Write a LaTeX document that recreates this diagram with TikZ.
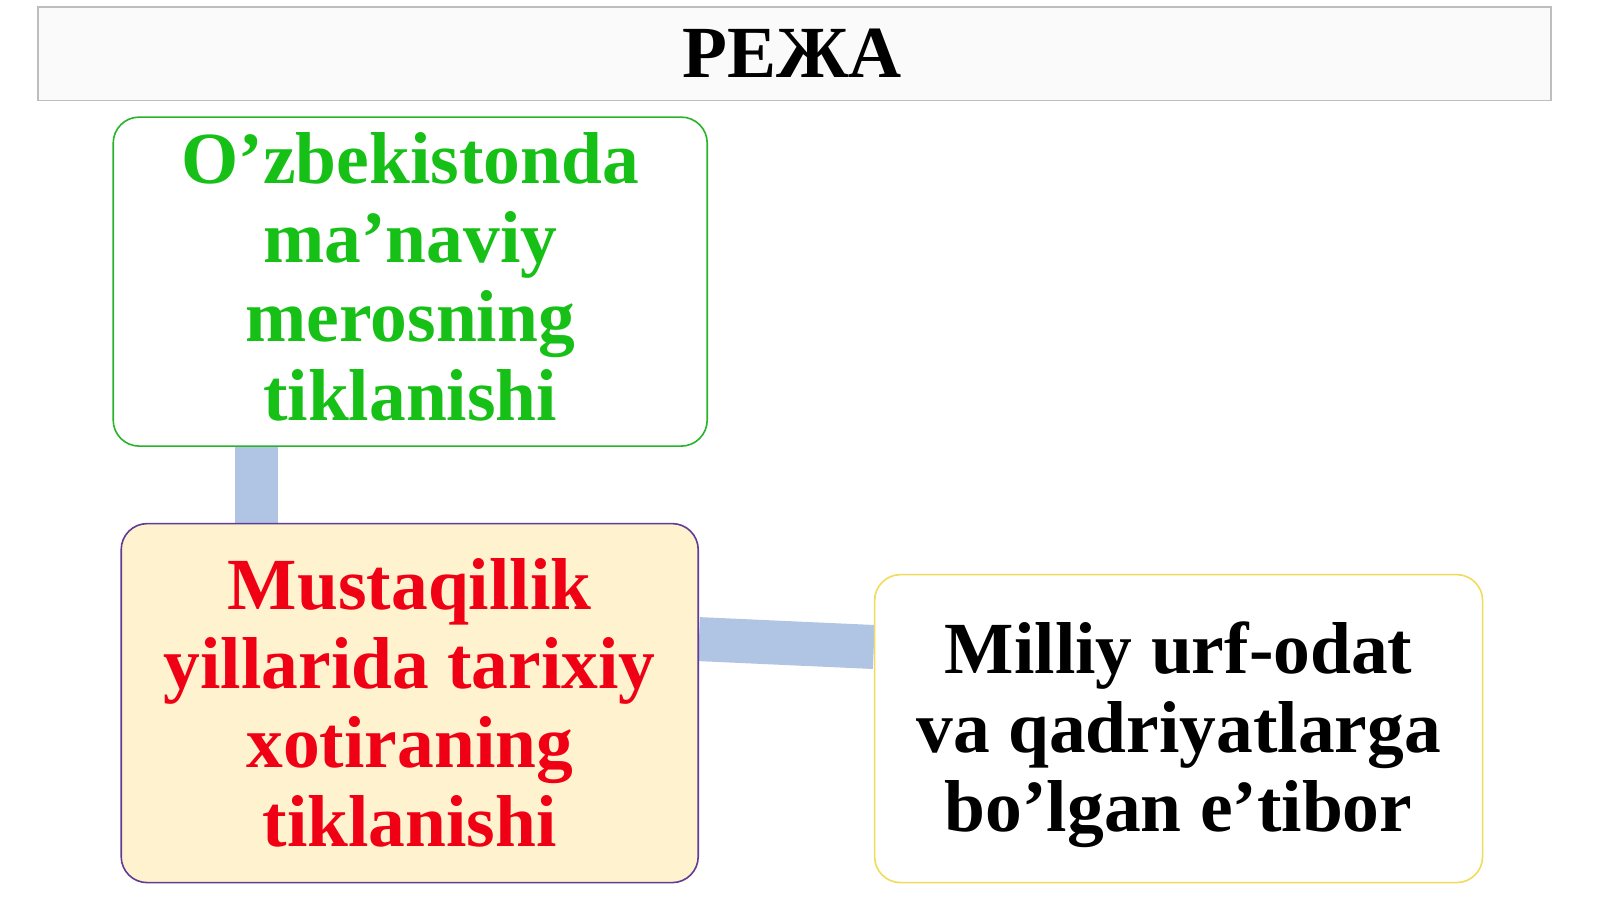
\documentclass[tikz,border=0pt]{standalone}
\usepackage{fontspec}
\setmainfont{Liberation Serif}
\usetikzlibrary{backgrounds,calc}
\definecolor{greentxt}{RGB}{22,192,22}
\definecolor{greenline}{RGB}{40,180,40}
\definecolor{redtxt}{RGB}{240,0,20}
\definecolor{purpleline}{RGB}{96,60,150}
\definecolor{creamfill}{RGB}{255,242,206}
\definecolor{goldline}{RGB}{240,220,90}
\definecolor{connblue}{RGB}{176,196,228}
\definecolor{titlefill}{RGB}{250,250,250}
\definecolor{titleline}{RGB}{190,190,190}
\tikzset{
  bigtext/.style={font=\fontsize{73.5}{79}\selectfont\bfseries, align=center, inner sep=0pt},
  roundbox/.style={rectangle, rounded corners=26pt, line width=1.6pt},
  conn/.style={draw=connblue, line cap=butt}
}
\begin{document}
\begin{tikzpicture}[x=1pt,y=-1pt]
\useasboundingbox (0,0) rectangle (1600,899);
% title
\node[rectangle, draw=titleline, fill=titlefill, line width=1.2pt, minimum width=1513pt, minimum height=93pt, inner sep=0pt] (title) at (794.4,53.6) {};
\node[bigtext, anchor=base] (titletext) at (792,77.6) {РЕЖА};
% boxes
\node[roundbox, draw=greenline, fill=white, minimum width=594pt, minimum height=329pt] (g) at (410.2,281.6) {};
\node[bigtext, text=greentxt] (gt) at ([yshift=5pt]g.center)
  {O’zbekistonda\\ma’naviy\\merosning\\tiklanishi};
\node[roundbox, draw=purpleline, fill=creamfill, minimum width=577pt, minimum height=359pt] (r) at (409.7,703.1) {};
\node[bigtext, text=redtxt] (rt) at (r.center)
  {Mustaqillik\\yillarida tarixiy\\xotiraning\\tiklanishi};
\node[roundbox, draw=goldline, fill=white, minimum width=608pt, minimum height=308pt] (b) at (1178.6,728.6) {};
\node[bigtext, text=black] (bt) at ([yshift=-6pt]b.center)
  {Milliy urf-odat\\va qadriyatlarga\\bo’lgan e’tibor};
% connectors
\begin{pgfonlayer}{background}
\fill[white] (0,0) rectangle (1600,899);
\draw[conn, line width=43pt] ([xshift=-154pt]g.south) -- ([xshift=-154pt]g.south |- r.north);
\draw[conn, line width=44pt] ([yshift=64pt]r.east) -- ([yshift=81.6pt]b.west);
\end{pgfonlayer}
\end{tikzpicture}
\end{document}
